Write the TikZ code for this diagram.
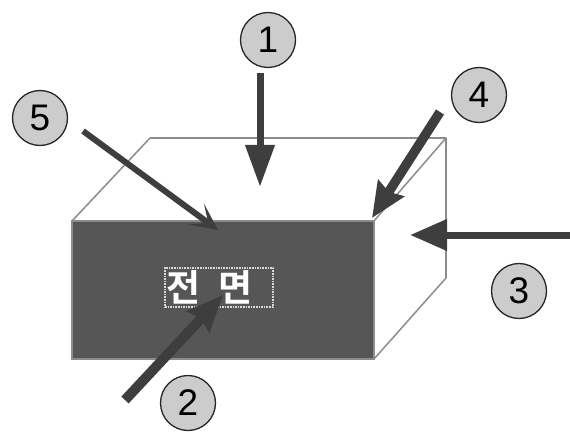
\documentclass[tikz,border=0pt]{standalone}
\usepackage{fontspec}
\setmainfont{Liberation Sans}
\newfontfamily\krfont{Noto Sans CJK KR Bold}[BoldFont={Noto Sans CJK KR Bold}]
\usetikzlibrary{arrows.meta}
\definecolor{facegray}{HTML}{565656}
\definecolor{arrowgray}{HTML}{3E3E3E}
\definecolor{edgegray}{HTML}{8C8C8C}
\definecolor{discgray}{HTML}{CCCCCC}
\tikzset{
  numdisc/.style={circle,draw=black!85,line width=1.3pt,fill=discgray,minimum size=55pt,inner sep=0pt,font=\fontsize{37}{37}\selectfont},
  boxedge/.style={draw=edgegray,line width=2.4pt,line join=round},
  thinedge/.style={draw=edgegray,line width=1.5pt},
  bigarrow/.style={draw=arrowgray,fill=arrowgray,line width=#1},
  bigarrow/.default=8pt,
}
\begin{document}
\begin{tikzpicture}[x=1pt,y=-1pt]
\useasboundingbox (0,0) rectangle (570,433);
\coordinate (fa) at (72,221); \coordinate (fb) at (374,221);
\coordinate (fc) at (374,359); \coordinate (fd) at (72,359);
\coordinate (ba) at (150,138); \coordinate (bb) at (446,138); \coordinate (bc) at (446,278);
\draw[thinedge] (fa) -- (ba);
\draw[thinedge] (fb) -- (bb);
\draw[thinedge] (fc) -- (bc);
\draw[boxedge] (ba) -- (bb) -- (bc);
\fill[facegray] (fa) rectangle (fc);
\draw[edgegray,line width=1.2pt] (fa) -- (fb) -- (fc) -- (fd) -- cycle;
\node (label) at (219,287.5) [draw=white!85!black,densely dotted,line width=1.6pt,minimum width=108pt,minimum height=39pt,inner sep=0pt,text=white,font=\krfont\fontsize{37}{37}\selectfont] {\makebox[106pt][l]{전\hspace{18pt}면}};
\node[numdisc] (n1) at (268,40) {1};
\node[numdisc] (n2) at (188,403) {2};
\node[numdisc] (n3) at (519,291) {3};
\node[numdisc] (n4) at (479,95) {4};
\node[numdisc] (n5) at (40,118) {5};
\coordinate (s1) at (260,73); \coordinate (t1) at (260,187);
\coordinate (s2) at (125,400); \coordinate (t2) at (223,295);
\coordinate (s3) at (570,235); \coordinate (t3) at (410,235);
\coordinate (s4) at (440,112); \coordinate (t4) at (372,218);
\coordinate (s5) at (83,131); \coordinate (t5) at (218,230);
\draw[bigarrow=7pt,-{Triangle[length=42pt,width=28pt]}] (s1) -- (t1);
\draw[bigarrow=10pt,-{Stealth[length=36pt,width=30pt,inset=4pt]}] (s2) -- (t2);
\draw[bigarrow=7pt,-{Triangle[length=37pt,width=30pt]}] (s3) -- (t3);
\draw[bigarrow=9.5pt,-{Stealth[length=35pt,width=30pt,inset=4pt]}] (s4) -- (t4);
\draw[bigarrow=6pt,-{Stealth[length=27pt,width=26pt,inset=15pt]}] (s5) -- (t5);
\end{tikzpicture}
\end{document}
